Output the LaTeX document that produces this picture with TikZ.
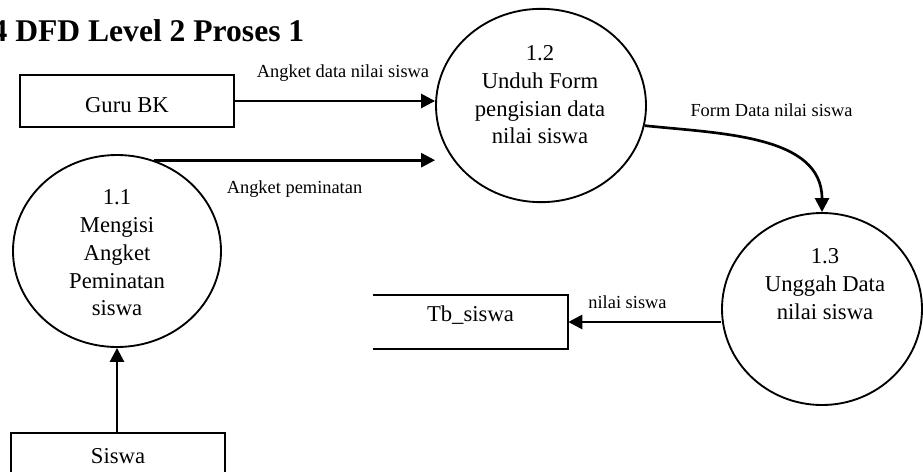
\documentclass[tikz,border=0pt]{standalone}
\usepackage{fontspec}
\setmainfont{Liberation Serif}
\usepackage{tikz}
\usetikzlibrary{positioning,shapes.geometric,arrows.meta}

\begin{document}
\begin{tikzpicture}[
    x=0.75pt, y=-0.75pt,
    entity/.style = {
        rectangle,
        draw=black,
        line width=1.4pt,
        minimum width=160.5pt,
        font=\fontsize{17pt}{20.8pt}\selectfont,
        inner sep=0pt
    },
    process/.style  = {ellipse, draw=black, line width=1.4pt, minimum width=156pt, minimum height=144pt, inner sep=0pt},
    proctext/.style = {align=center, font=\fontsize{17pt}{20.8pt}\selectfont, inner sep=0pt},
    store/.style    = {rectangle, minimum width=146.25pt, minimum height=40.5pt, text height=9pt, text depth=10.5pt,
                       font=\fontsize{17pt}{20.8pt}\selectfont, inner sep=0pt},
    storeline/.style = {line width=1.4pt},
    flow/.style      = {-{Triangle[length=10.5pt,width=10.5pt]}, line width=2pt, draw=black},
    flowlabel/.style = {font=\fontsize{13.8pt}{16pt}\selectfont, inner sep=0pt, anchor=base},
    title/.style     = {font=\fontsize{23.7pt}{28pt}\selectfont\bfseries, inner sep=0pt, anchor=base west}
]

\useasboundingbox (0,0) rectangle (923,471);

% Title
\node[title] (title) at (-8.7,41.5) {4 DFD Level 2 Proses 1};

% External entities
\node[entity, minimum height=39pt, text height=16.5pt, text depth=0pt] (guru) at (127,101) {Guru BK};
\node[entity, minimum height=45pt, text height=6pt, text depth=6pt] (siswa) at (118,463) {Siswa};

% Processes
\node[process] (p11) at (117,251) {};
\node[proctext] (p11txt) at (117,253) {1.1\\Mengisi\\Angket\\Peminatan\\siswa};

\node[process, minimum width=157.5pt, minimum height=145pt] (p12) at (541,105.5) {};
\node[proctext] (p12txt) at (540,95) {1.2\\Unduh Form\\pengisian data\\nilai siswa};

\node[process, minimum width=150pt] (p13) at (822,309) {};
\node[proctext] (p13txt) at (825,284) {1.3\\Unggah Data\\nilai siswa};

% Data store (open on the left)
\node[store] (tb) at (470.5,322) {Tb\_siswa};
\draw[storeline] (tb.north west) -- (tb.north east) -- (tb.south east) -- (tb.south west);

% Data flows
\draw[flow] (guru.east) -- (guru.east -| p12.west);
\draw[flow] (p11.68) -- (p11.68 -| p12.west);
\draw[flow] (p12.-11) to[out=-6, in=90] (p13.north);
\draw[flow] (tb.east -| p13.west) -- (tb.east);
\draw[flow] (p11.south |- siswa.north) -- (p11.south);

% Flow labels
\node[flowlabel] (lbl1) at (343,77)    {Angket data nilai siswa};
\node[flowlabel] (lbl2) at (294.5,193) {Angket peminatan};
\node[flowlabel] (lbl3) at (771.5,116) {Form Data nilai siswa};
\node[flowlabel] (lbl4) at (627.5,308) {nilai siswa};

\end{tikzpicture}
\end{document}
